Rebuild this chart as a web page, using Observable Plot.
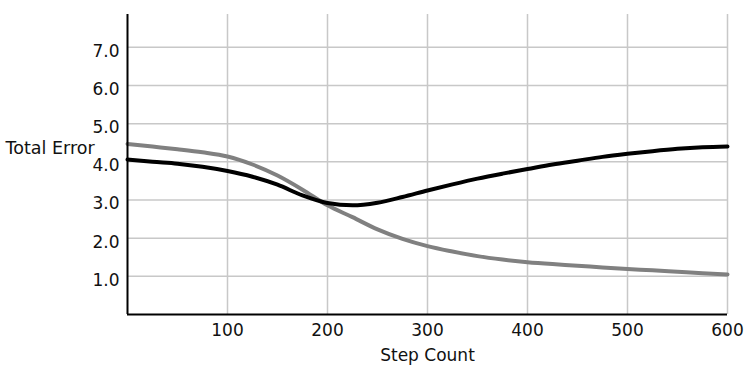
<!DOCTYPE html>
<html>
<head>
<meta charset="utf-8">
<script src="https://cdn.jsdelivr.net/npm/d3@7"></script>
<script src="https://cdn.jsdelivr.net/npm/@observablehq/plot@0.6"></script>
<style>
  html, body { margin: 0; padding: 0; background: #fff; }
</style>
</head>
<body>
<div id="chart"></div>
<script>
const steps = [0, 25, 50, 75, 100, 125, 150, 175, 200, 225, 250, 275, 300, 325, 350, 375, 400, 425, 450, 475, 500, 525, 550, 575, 600];
const blackSeries = [4.06, 4.00, 3.95, 3.87, 3.76, 3.61, 3.40, 3.12, 2.92, 2.86, 2.93, 3.08, 3.25, 3.41, 3.56, 3.69, 3.81, 3.93, 4.03, 4.13, 4.21, 4.28, 4.34, 4.38, 4.40];
const graySeries = [4.47, 4.40, 4.33, 4.25, 4.14, 3.93, 3.64, 3.27, 2.86, 2.55, 2.23, 1.98, 1.79, 1.65, 1.53, 1.44, 1.37, 1.32, 1.28, 1.23, 1.19, 1.16, 1.12, 1.08, 1.05];
const xTicks = [100, 200, 300, 400, 500, 600];
const yTicks = [1, 2, 3, 4, 5, 6, 7];
const xLabel = "Step Count";
const yLabel = "Total Error";

const black = steps.map((s, i) => ({step: s, value: blackSeries[i]}));
const gray = steps.map((s, i) => ({step: s, value: graySeries[i]}));

const chart = Plot.plot({
  width: 753,
  height: 377,
  marginLeft: 127,
  marginRight: 26,
  marginTop: 14,
  marginBottom: 63,
  style: {fontFamily: "DejaVu Sans", fontSize: "17px", color: "#111", background: "#fff"},
  x: {domain: [0, 600], axis: null},
  y: {domain: [0, 7.86], axis: null},
  marks: [
    Plot.gridX(xTicks, {stroke: "#c8c8c8", strokeOpacity: 1, strokeWidth: 1.5}),
    Plot.gridY(yTicks, {stroke: "#c8c8c8", strokeOpacity: 1, strokeWidth: 1.5}),
    Plot.axisX({ticks: xTicks, tickSize: 0, tickPadding: 9, label: null, fontSize: 17}),
    Plot.axisY({ticks: yTicks, tickSize: 0, tickPadding: 8, dy: 4, label: null, fontSize: 17, tickFormat: d => d.toFixed(1)}),
    Plot.line(gray, {x: "step", y: "value", stroke: "#808080", strokeWidth: 4, curve: "monotone-x"}),
    Plot.line(black, {x: "step", y: "value", stroke: "#000", strokeWidth: 4, curve: "monotone-x"}),
    Plot.ruleX([0], {stroke: "#000", strokeWidth: 2}),
    Plot.ruleY([0], {stroke: "#000", strokeWidth: 2}),
    Plot.text([yLabel], {frameAnchor: "left", textAnchor: "start", dx: -122, dy: -16, fontSize: 17.5, fill: "#111"}),
    Plot.text([xLabel], {frameAnchor: "bottom", dy: 46, fontSize: 17, fill: "#111"})
  ]
});
document.getElementById("chart").appendChild(chart);
</script>
</body>
</html>
